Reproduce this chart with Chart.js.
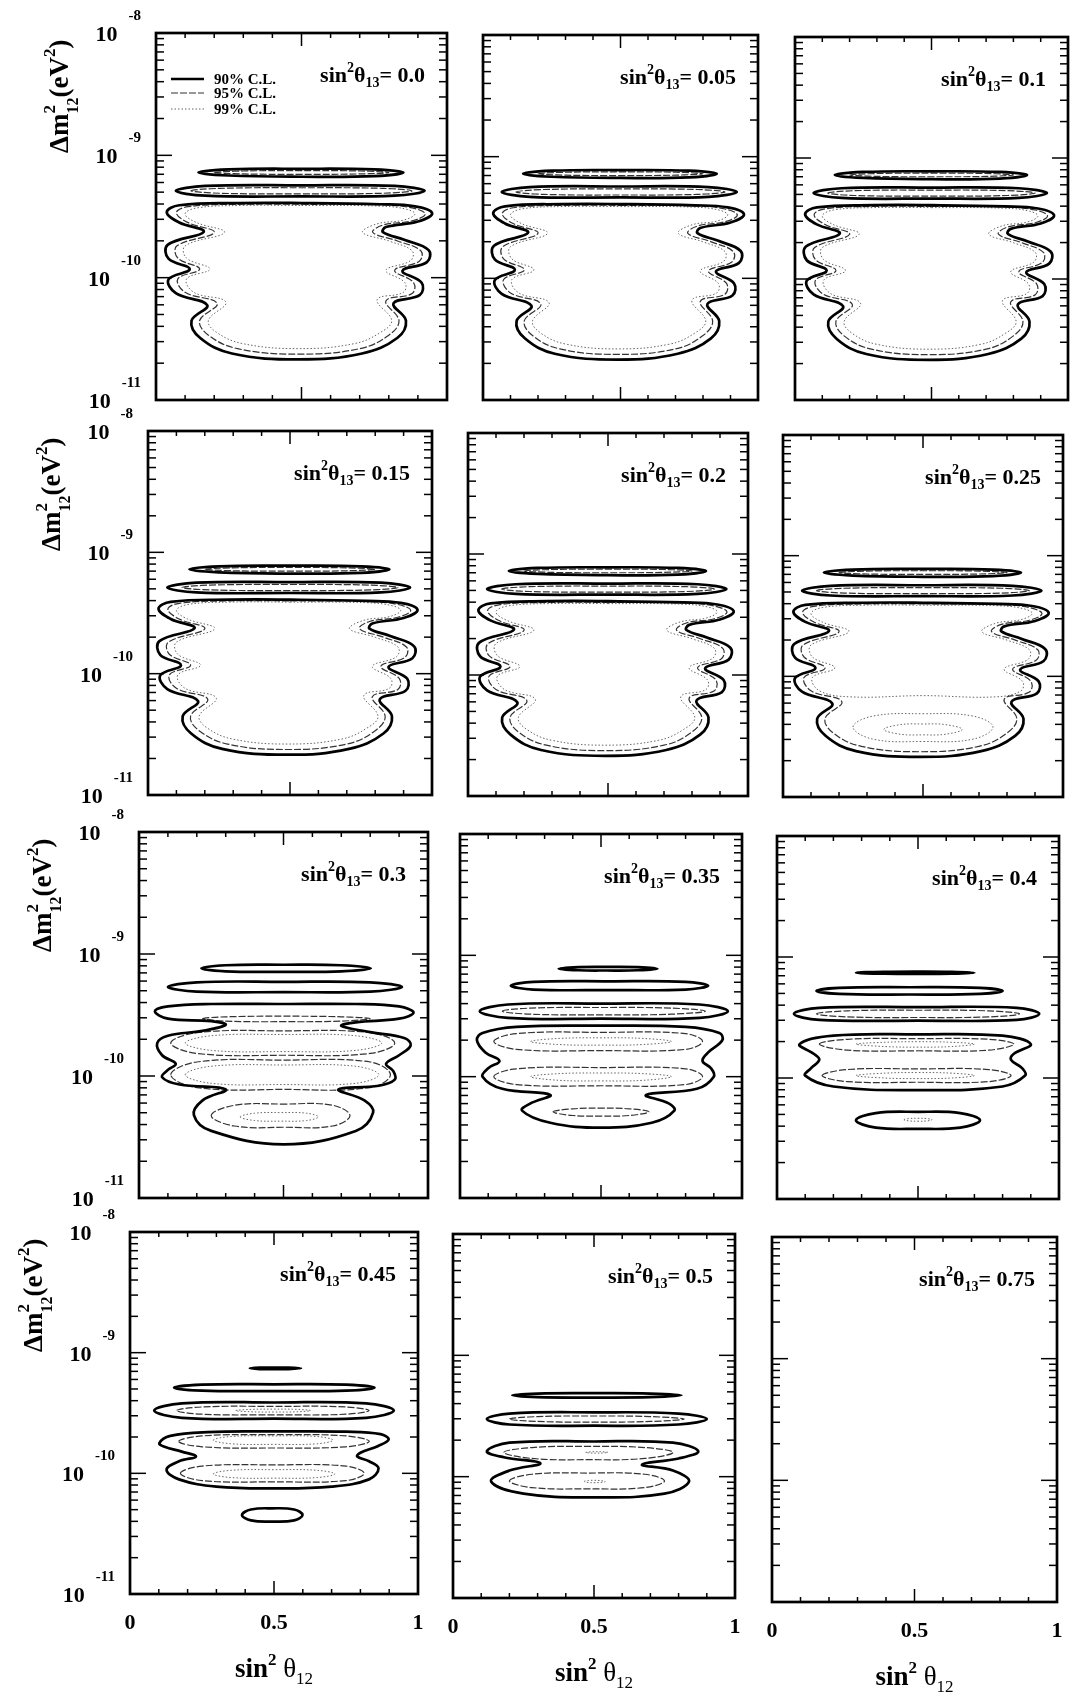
<!DOCTYPE html>
<html>
<head>
<meta charset="utf-8">
<script src="https://cdn.jsdelivr.net/npm/chart.js@4.4.1/dist/chart.umd.min.js"></script>
<style>
  html, body { margin: 0; padding: 0; background: #fff; }
  #page { position: relative; width: 1076px; height: 1693px; overflow: hidden; background: #fff; }
  #page canvas { position: absolute; }
</style>
</head>
<body>
<div id="page"></div>
<script>
// ---- labels / ticks ----
const sinLabels = ['0.0', '0.05', '0.1', '0.15', '0.2', '0.25', '0.3', '0.35', '0.4', '0.45', '0.5', '0.75'];
const decades = [-11, -10, -9, -8];
const minorMantissas = [2, 3, 4, 5, 6, 7, 8, 9];
const xMinorTicks = [0.1, 0.2, 0.3, 0.4, 0.6, 0.7, 0.8, 0.9];
const xMajorTicks = [0.5];
const xTickValues = [0, 0.5, 1];
const xTickLabels = ['0', '0.5', '1'];
const clLabels = ['90% C.L.', '95% C.L.', '99% C.L.'];

// ---- contours: closed curves of [sin^2 theta12, log10(dm2)] ----
// panels 0.0 - 0.2 look alike
const fork90 = [
  [[0.146,-9.14],[0.25,-9.115],[0.5,-9.11],[0.75,-9.115],[0.85,-9.14],[0.75,-9.17],[0.5,-9.175],[0.25,-9.165]],
  [[0.068,-9.29],[0.17,-9.25],[0.5,-9.245],[0.82,-9.25],[0.923,-9.29],[0.82,-9.33],[0.5,-9.335],[0.17,-9.33]],
  [[0.50,-9.39],[0.77,-9.40],[0.89,-9.417],[0.949,-9.473],[0.90,-9.541],[0.79,-9.586],[0.78,-9.628],[0.853,-9.69],
   [0.937,-9.775],[0.931,-9.873],[0.847,-9.944],[0.913,-10.042],[0.907,-10.141],[0.816,-10.211],[0.859,-10.352],
   [0.829,-10.493],[0.708,-10.62],[0.49,-10.668],[0.261,-10.62],[0.152,-10.493],[0.122,-10.352],[0.176,-10.225],
   [0.068,-10.127],[0.043,-10.014],[0.116,-9.93],[0.043,-9.845],[0.04,-9.732],[0.164,-9.625],[0.08,-9.549],
   [0.037,-9.465],[0.08,-9.408],[0.285,-9.39]]
];
const fork95 = [
  [[0.20,-9.14],[0.3,-9.128],[0.5,-9.125],[0.7,-9.128],[0.80,-9.14],[0.7,-9.152],[0.5,-9.155],[0.3,-9.152]],
  [[0.12,-9.29],[0.22,-9.27],[0.5,-9.265],[0.78,-9.27],[0.88,-9.29],[0.78,-9.31],[0.5,-9.315],[0.22,-9.31]],
  [[0.50,-9.40],[0.77,-9.405],[0.88,-9.43],[0.925,-9.48],[0.88,-9.535],[0.78,-9.57],[0.745,-9.63],[0.83,-9.70],
   [0.91,-9.78],[0.905,-9.865],[0.82,-9.94],[0.885,-10.04],[0.88,-10.13],[0.79,-10.19],[0.835,-10.35],[0.80,-10.47],
   [0.70,-10.58],[0.49,-10.625],[0.28,-10.58],[0.18,-10.47],[0.15,-10.35],[0.21,-10.21],[0.10,-10.12],[0.075,-10.01],
   [0.15,-9.93],[0.075,-9.84],[0.072,-9.74],[0.20,-9.63],[0.11,-9.55],[0.07,-9.47],[0.11,-9.42],[0.29,-9.40]]
];
const fork99 = [
  [[0.50,-9.41],[0.77,-9.415],[0.86,-9.44],[0.89,-9.48],[0.85,-9.53],[0.76,-9.56],[0.71,-9.63],[0.80,-9.70],
   [0.88,-9.78],[0.875,-9.86],[0.79,-9.94],[0.855,-10.04],[0.85,-10.12],[0.76,-10.18],[0.81,-10.35],[0.77,-10.45],
   [0.68,-10.54],[0.49,-10.58],[0.30,-10.54],[0.21,-10.45],[0.18,-10.35],[0.24,-10.20],[0.13,-10.12],[0.105,-10.01],
   [0.185,-9.93],[0.105,-9.84],[0.10,-9.74],[0.235,-9.63],[0.14,-9.55],[0.10,-9.48],[0.14,-9.43],[0.29,-9.41]]
];

// sin^2 theta13 = 0.25
const s025_99 = [
  [[0.50,-9.41],[0.77,-9.415],[0.86,-9.44],[0.89,-9.48],[0.85,-9.53],[0.76,-9.56],[0.71,-9.63],[0.80,-9.70],
   [0.88,-9.78],[0.875,-9.86],[0.79,-9.94],[0.855,-10.04],[0.85,-10.12],[0.76,-10.17],[0.5,-10.16],[0.24,-10.17],
   [0.13,-10.12],[0.105,-10.01],[0.185,-9.93],[0.105,-9.84],[0.10,-9.74],[0.235,-9.63],[0.14,-9.55],[0.10,-9.48],
   [0.14,-9.43],[0.29,-9.41]],
  [[0.25,-10.42],[0.32,-10.33],[0.5,-10.31],[0.68,-10.33],[0.75,-10.42],[0.68,-10.52],[0.5,-10.54],[0.32,-10.52]],
  [[0.36,-10.44],[0.42,-10.40],[0.5,-10.395],[0.58,-10.40],[0.64,-10.44],[0.58,-10.48],[0.5,-10.485],[0.42,-10.48]]
];

// sin^2 theta13 = 0.3
const s030_90 = [
  [[0.216,-9.117],[0.3,-9.092],[0.5,-9.088],[0.7,-9.092],[0.802,-9.117],[0.7,-9.142],[0.5,-9.146],[0.3,-9.142]],
  [[0.10,-9.27],[0.2,-9.232],[0.5,-9.228],[0.8,-9.232],[0.91,-9.27],[0.8,-9.308],[0.5,-9.312],[0.2,-9.308]],
  [[0.5,-9.41],[0.75,-9.41],[0.90,-9.43],[0.95,-9.48],[0.90,-9.53],[0.75,-9.56],[0.70,-9.59],[0.80,-9.64],[0.92,-9.69],
   [0.94,-9.75],[0.90,-9.83],[0.855,-9.90],[0.88,-9.96],[0.885,-10.03],[0.83,-10.08],[0.69,-10.11],[0.78,-10.20],
   [0.81,-10.30],[0.75,-10.45],[0.50,-10.56],[0.25,-10.45],[0.19,-10.32],[0.22,-10.20],[0.30,-10.11],[0.14,-10.07],
   [0.08,-10.01],[0.10,-9.95],[0.127,-9.90],[0.08,-9.83],[0.063,-9.73],[0.10,-9.67],[0.22,-9.63],[0.30,-9.58],
   [0.25,-9.55],[0.10,-9.53],[0.055,-9.47],[0.10,-9.43],[0.25,-9.41]]
];
const s030_95 = [
  [[0.22,-9.53],[0.3,-9.515],[0.5,-9.51],[0.7,-9.515],[0.80,-9.53],[0.7,-9.55],[0.5,-9.555],[0.3,-9.55]],
  [[0.11,-9.73],[0.2,-9.645],[0.5,-9.63],[0.8,-9.645],[0.885,-9.73],[0.8,-9.815],[0.5,-9.83],[0.2,-9.815]],
  [[0.11,-9.99],[0.2,-9.885],[0.5,-9.87],[0.8,-9.885],[0.87,-9.99],[0.8,-10.095],[0.5,-10.11],[0.2,-10.095]],
  [[0.25,-10.325],[0.33,-10.24],[0.5,-10.23],[0.67,-10.24],[0.73,-10.325],[0.67,-10.41],[0.5,-10.42],[0.33,-10.41]]
];
const s030_99 = [
  [[0.16,-9.73],[0.25,-9.67],[0.5,-9.66],[0.75,-9.67],[0.84,-9.73],[0.75,-9.79],[0.5,-9.80],[0.25,-9.79]],
  [[0.16,-9.99],[0.25,-9.92],[0.5,-9.91],[0.75,-9.92],[0.83,-9.99],[0.75,-10.06],[0.5,-10.07],[0.25,-10.06]],
  [[0.35,-10.335],[0.4,-10.305],[0.49,-10.30],[0.58,-10.305],[0.62,-10.335],[0.58,-10.365],[0.49,-10.37],[0.4,-10.365]]
];

// sin^2 theta13 = 0.35
const s035_90 = [
  [[0.35,-9.11],[0.42,-9.097],[0.52,-9.095],[0.63,-9.097],[0.70,-9.11],[0.63,-9.123],[0.52,-9.125],[0.42,-9.123]],
  [[0.18,-9.25],[0.26,-9.218],[0.53,-9.214],[0.8,-9.218],[0.88,-9.25],[0.8,-9.282],[0.53,-9.286],[0.26,-9.282]],
  [[0.07,-9.46],[0.17,-9.405],[0.5,-9.398],[0.85,-9.405],[0.95,-9.46],[0.85,-9.515],[0.5,-9.522],[0.17,-9.515]],
  [[0.5,-9.58],[0.8,-9.59],[0.92,-9.64],[0.93,-9.70],[0.88,-9.80],[0.86,-9.87],[0.89,-9.93],[0.90,-10.0],[0.84,-10.10],
   [0.66,-10.15],[0.74,-10.22],[0.76,-10.28],[0.68,-10.38],[0.5,-10.42],[0.32,-10.38],[0.22,-10.28],[0.25,-10.22],
   [0.32,-10.15],[0.15,-10.10],[0.08,-10.0],[0.10,-9.93],[0.14,-9.87],[0.09,-9.80],[0.06,-9.70],[0.08,-9.64],[0.2,-9.59]]
];
const s035_95 = [
  [[0.15,-9.46],[0.25,-9.435],[0.5,-9.43],[0.75,-9.435],[0.87,-9.46],[0.75,-9.485],[0.5,-9.49],[0.25,-9.485]],
  [[0.12,-9.71],[0.2,-9.645],[0.5,-9.635],[0.8,-9.645],[0.86,-9.71],[0.8,-9.775],[0.5,-9.785],[0.2,-9.775]],
  [[0.12,-10.0],[0.2,-9.935],[0.5,-9.925],[0.8,-9.935],[0.86,-10.0],[0.8,-10.065],[0.5,-10.075],[0.2,-10.065]],
  [[0.33,-10.29],[0.4,-10.265],[0.5,-10.26],[0.6,-10.265],[0.67,-10.29],[0.6,-10.32],[0.5,-10.325],[0.4,-10.32]]
];
const s035_99 = [
  [[0.25,-9.71],[0.35,-9.685],[0.5,-9.68],[0.65,-9.685],[0.75,-9.71],[0.65,-9.735],[0.5,-9.74],[0.35,-9.735]],
  [[0.25,-10.0],[0.35,-9.975],[0.5,-9.97],[0.65,-9.975],[0.75,-10.0],[0.65,-10.03],[0.5,-10.035],[0.35,-10.03]]
];

// sin^2 theta13 = 0.4
const s040_90 = [
  [[0.28,-9.13],[0.38,-9.122],[0.5,-9.12],[0.62,-9.122],[0.70,-9.13],[0.62,-9.138],[0.5,-9.14],[0.38,-9.138]],
  [[0.14,-9.28],[0.22,-9.255],[0.47,-9.25],[0.72,-9.255],[0.80,-9.28],[0.72,-9.305],[0.47,-9.31],[0.22,-9.305]],
  [[0.06,-9.47],[0.15,-9.42],[0.5,-9.415],[0.85,-9.42],[0.93,-9.47],[0.85,-9.52],[0.5,-9.525],[0.15,-9.52]],
  [[0.5,-9.64],[0.8,-9.65],[0.90,-9.72],[0.84,-9.80],[0.83,-9.85],[0.87,-9.92],[0.88,-9.98],[0.80,-10.07],[0.5,-10.10],
   [0.2,-10.07],[0.10,-9.98],[0.12,-9.92],[0.15,-9.85],[0.13,-9.80],[0.08,-9.72],[0.2,-9.65]],
  [[0.28,-10.35],[0.35,-10.29],[0.5,-10.28],[0.65,-10.29],[0.72,-10.35],[0.65,-10.41],[0.5,-10.42],[0.35,-10.41]]
];
const s040_95 = [
  [[0.14,-9.47],[0.25,-9.445],[0.5,-9.44],[0.75,-9.445],[0.86,-9.47],[0.75,-9.495],[0.5,-9.50],[0.25,-9.495]],
  [[0.15,-9.72],[0.25,-9.68],[0.5,-9.675],[0.75,-9.68],[0.84,-9.72],[0.75,-9.77],[0.5,-9.775],[0.25,-9.77]],
  [[0.16,-9.98],[0.25,-9.93],[0.5,-9.925],[0.75,-9.93],[0.83,-9.98],[0.75,-10.03],[0.5,-10.035],[0.25,-10.03]]
];
const s040_99 = [
  [[0.28,-9.72],[0.38,-9.705],[0.5,-9.70],[0.62,-9.705],[0.70,-9.72],[0.62,-9.74],[0.5,-9.745],[0.38,-9.74]],
  [[0.28,-9.98],[0.38,-9.96],[0.5,-9.955],[0.62,-9.96],[0.70,-9.98],[0.62,-10.0],[0.5,-10.005],[0.38,-10.0]],
  [[0.45,-10.345],[0.47,-10.335],[0.5,-10.333],[0.53,-10.335],[0.55,-10.345],[0.53,-10.355],[0.5,-10.357],[0.47,-10.355]]
];

// sin^2 theta13 = 0.45
const s045_90 = [
  [[0.416,-9.13],[0.45,-9.124],[0.5,-9.123],[0.55,-9.124],[0.594,-9.13],[0.55,-9.136],[0.5,-9.137],[0.45,-9.136]],
  [[0.153,-9.29],[0.25,-9.265],[0.5,-9.262],[0.75,-9.265],[0.849,-9.29],[0.75,-9.315],[0.5,-9.318],[0.25,-9.315]],
  [[0.084,-9.48],[0.18,-9.42],[0.5,-9.413],[0.82,-9.42],[0.916,-9.48],[0.82,-9.54],[0.5,-9.547],[0.18,-9.54]],
  [[0.5,-9.653],[0.75,-9.655],[0.87,-9.675],[0.898,-9.72],[0.86,-9.775],[0.80,-9.83],[0.789,-9.861],[0.83,-9.90],
   [0.863,-9.96],[0.83,-10.05],[0.70,-10.11],[0.5,-10.125],[0.30,-10.11],[0.17,-10.05],[0.127,-9.97],[0.17,-9.90],
   [0.229,-9.861],[0.18,-9.82],[0.12,-9.78],[0.102,-9.75],[0.14,-9.69],[0.27,-9.658]],
  [[0.389,-10.345],[0.42,-10.30],[0.494,-10.29],[0.57,-10.30],[0.599,-10.345],[0.57,-10.39],[0.494,-10.40],[0.42,-10.39]]
];
const s045_95 = [
  [[0.163,-9.48],[0.25,-9.45],[0.5,-9.445],[0.75,-9.45],[0.83,-9.48],[0.75,-9.51],[0.5,-9.515],[0.25,-9.51]],
  [[0.169,-9.735],[0.25,-9.69],[0.5,-9.68],[0.75,-9.69],[0.831,-9.735],[0.75,-9.78],[0.5,-9.79],[0.25,-9.78]],
  [[0.175,-10.0],[0.25,-9.94],[0.5,-9.93],[0.75,-9.94],[0.813,-10.0],[0.75,-10.06],[0.5,-10.07],[0.25,-10.06]]
];
const s045_99 = [
  [[0.367,-9.48],[0.42,-9.47],[0.5,-9.468],[0.58,-9.47],[0.627,-9.48],[0.58,-9.49],[0.5,-9.492],[0.42,-9.49]],
  [[0.289,-9.725],[0.35,-9.695],[0.5,-9.69],[0.65,-9.695],[0.705,-9.725],[0.65,-9.755],[0.5,-9.76],[0.35,-9.755]],
  [[0.289,-10.005],[0.35,-9.975],[0.5,-9.97],[0.65,-9.975],[0.711,-10.005],[0.65,-10.035],[0.5,-10.04],[0.35,-10.035]]
];

// sin^2 theta13 = 0.5
const s050_90 = [
  [[0.21,-9.33],[0.3,-9.315],[0.5,-9.312],[0.7,-9.315],[0.81,-9.33],[0.7,-9.345],[0.5,-9.348],[0.3,-9.345]],
  [[0.12,-9.525],[0.2,-9.48],[0.5,-9.47],[0.8,-9.48],[0.90,-9.525],[0.8,-9.57],[0.5,-9.58],[0.2,-9.57]],
  [[0.5,-9.71],[0.78,-9.72],[0.87,-9.79],[0.80,-9.85],[0.67,-9.90],[0.78,-9.95],[0.837,-10.04],[0.75,-10.14],
   [0.5,-10.17],[0.25,-10.14],[0.135,-10.04],[0.2,-9.95],[0.31,-9.89],[0.18,-9.84],[0.12,-9.79],[0.2,-9.72]]
];
const s050_95 = [
  [[0.20,-9.525],[0.3,-9.505],[0.5,-9.50],[0.7,-9.505],[0.82,-9.525],[0.7,-9.545],[0.5,-9.55],[0.3,-9.545]],
  [[0.18,-9.80],[0.28,-9.76],[0.48,-9.75],[0.68,-9.76],[0.78,-9.80],[0.68,-9.85],[0.48,-9.86],[0.28,-9.85]],
  [[0.20,-10.035],[0.28,-9.98],[0.48,-9.97],[0.68,-9.98],[0.75,-10.035],[0.68,-10.09],[0.48,-10.10],[0.28,-10.09]]
];
const s050_99 = [
  [[0.47,-9.80],[0.49,-9.795],[0.51,-9.794],[0.53,-9.795],[0.55,-9.80],[0.53,-9.805],[0.51,-9.806],[0.49,-9.805]],
  [[0.465,-10.04],[0.48,-10.032],[0.50,-10.03],[0.52,-10.032],[0.54,-10.04],[0.52,-10.048],[0.50,-10.05],[0.48,-10.048]]
];

const panelContours = [
  [fork90, fork95, fork99], [fork90, fork95, fork99], [fork90, fork95, fork99],
  [fork90, fork95, fork99], [fork90, fork95, fork99], [fork90, fork95, s025_99],
  [s030_90, s030_95, s030_99], [s035_90, s035_95, s035_99], [s040_90, s040_95, s040_99],
  [s045_90, s045_95, s045_99], [s050_90, s050_95, s050_99], [[], [], []]
];

// ---- layout ----
const frames = [ // left, right, top, bottom of each panel frame on the page
  [156, 447, 33, 400], [483, 758, 35, 400], [795, 1068, 37, 400],
  [148, 432, 431, 795], [468, 748, 433, 796], [783, 1063, 435, 797],
  [139, 428, 832, 1198], [460, 742, 834, 1198], [777, 1059, 836, 1199],
  [130, 418, 1232, 1594], [453, 735, 1234, 1598], [772, 1057, 1237, 1602]
];
const clStyles = [
  { color: '#000', width: 2.7, dash: [] },
  { color: '#333', width: 1.2, dash: [7, 2] },
  { color: '#666', width: 1.0, dash: [1.5, 2] }
];
const FONT = '"Liberation Serif", "Times New Roman", serif';

function drawRuns(ctx, parts, x, y, align) {
  let w = 0;
  parts.forEach(p => {
    ctx.font = p.f;
    p.w = ctx.measureText(p.t).width;
    if (!p.noAdvance) w += p.w;
  });
  let cx = align === 'right' ? x - w : align === 'center' ? x - w / 2 : x;
  parts.forEach(p => {
    ctx.font = p.f;
    ctx.fillText(p.t, cx, y + (p.dy || 0));
    if (!p.noAdvance) cx += p.w;
  });
}

function line(ctx, x1, y1, x2, y2) {
  ctx.beginPath(); ctx.moveTo(x1, y1); ctx.lineTo(x2, y2); ctx.stroke();
}

const framePlugin = {
  id: 'frame',
  afterDraw(chart, args, opts) {
    const { ctx, chartArea: a } = chart;
    const xs = chart.scales.x, ys = chart.scales.y;
    ctx.save();
    ctx.strokeStyle = '#000';
    ctx.fillStyle = '#000';
    ctx.lineCap = 'butt';

    // y ticks, inside on both sides
    ctx.lineWidth = 1.5;
    decades.forEach(d => {
      const py = ys.getPixelForValue(Math.pow(10, d));
      line(ctx, a.left, py, a.left + 16, py);
      line(ctx, a.right, py, a.right - 16, py);
      if (d < -8) {
        minorMantissas.forEach(m => {
          const p = ys.getPixelForValue(m * Math.pow(10, d));
          line(ctx, a.left, p, a.left + 8, p);
          line(ctx, a.right, p, a.right - 8, p);
        });
      }
    });
    // x ticks, inside top and bottom
    xMinorTicks.forEach(v => {
      const px = xs.getPixelForValue(v);
      line(ctx, px, a.top, px, a.top + 5);
      line(ctx, px, a.bottom, px, a.bottom - 5);
    });
    xMajorTicks.forEach(v => {
      const px = xs.getPixelForValue(v);
      line(ctx, px, a.top, px, a.top + 13);
      line(ctx, px, a.bottom, px, a.bottom - 13);
    });

    // frame
    ctx.lineWidth = 2.7;
    ctx.strokeRect(a.left, a.top, a.right - a.left, a.bottom - a.top);

    // sin^2 theta13 label, upper right
    ctx.textBaseline = 'alphabetic';
    drawRuns(ctx, [
      { t: 'sin', f: 'bold 22px ' + FONT },
      { t: '2', f: 'bold 14px ' + FONT, dy: -10 },
      { t: 'θ', f: 'bold 22px ' + FONT },
      { t: '13', f: 'bold 14px ' + FONT, dy: 5 },
      { t: '= ' + opts.label, f: 'bold 22px ' + FONT }
    ], a.right - 22, a.top + 49, 'right');

    // legend
    if (opts.legend) {
      clLabels.forEach((lab, i) => {
        const ly = a.top + [46, 60, 76][i];
        ctx.save();
        ctx.lineWidth = clStyles[i].width;
        ctx.strokeStyle = clStyles[i].color;
        ctx.setLineDash(clStyles[i].dash);
        line(ctx, a.left + 15, ly, a.left + 48, ly);
        ctx.restore();
        ctx.font = 'bold 15px ' + FONT;
        ctx.fillText(lab, a.left + 58, ly + 5);
      });
    }

    // y tick labels and y title (first column)
    if (opts.yLabels) {
      decades.forEach(d => {
        const py = ys.getPixelForValue(Math.pow(10, d));
        const ex = String(d);
        ctx.font = 'bold 15px ' + FONT;
        const ew = ctx.measureText(ex).width;
        const right = a.left - 15;
        ctx.fillText(ex, right - ew, py - 13);
        ctx.font = 'bold 22px ' + FONT;
        const tw = ctx.measureText('10').width;
        ctx.fillText('10', right - ew - 11 - tw, py + 8);
      });
      ctx.save();
      ctx.translate(a.left - 88, a.top + 120);
      ctx.rotate(-Math.PI / 2);
      drawRuns(ctx, [
        { t: 'Δm', f: 'bold 27px ' + FONT },
        { t: '2', f: 'bold 17px ' + FONT, dy: -13, noAdvance: true },
        { t: '12', f: 'bold 16px ' + FONT, dy: 10 },
        { t: '(eV', f: 'bold 27px ' + FONT },
        { t: '2', f: 'bold 17px ' + FONT, dy: -13 },
        { t: ')', f: 'bold 27px ' + FONT }
      ], 0, 0, 'left');
      ctx.restore();
    }

    // x tick labels and x title (bottom row)
    if (opts.xLabels) {
      ctx.font = 'bold 22px ' + FONT;
      ctx.textAlign = 'center';
      xTickValues.forEach((v, i) => {
        ctx.fillText(xTickLabels[i], xs.getPixelForValue(v), a.bottom + 35);
      });
      ctx.textAlign = 'left';
      drawRuns(ctx, [
        { t: 'sin', f: 'bold 27px ' + FONT },
        { t: '2', f: 'bold 17px ' + FONT, dy: -12 },
        { t: ' θ', f: '27px ' + FONT },
        { t: '12', f: '17px ' + FONT, dy: 7 }
      ], (a.left + a.right) / 2, a.bottom + 83, 'center');
    }
    ctx.restore();
  }
};

function ringData(ring) {
  const pts = ring.map(p => ({ x: p[0], y: Math.pow(10, p[1]) }));
  const n = pts.length;
  // wrap around so the closing joint is smooth; the two outer segments are hidden
  return [pts[n - 1]].concat(pts, [pts[0], pts[1]]);
}
const hideEnds = ctx => {
  const len = ctx.chart.data.datasets[ctx.datasetIndex].data.length;
  return (ctx.p0DataIndex === 0 || ctx.p1DataIndex === len - 1) ? 'rgba(0,0,0,0)' : undefined;
};

const page = document.getElementById('page');
frames.forEach((fr, i) => {
  const [fl, fr_, ft, fb] = fr;
  const col = i % 3, row = Math.floor(i / 3);
  const padL = col === 0 ? fl : 12;
  const padR = 14;
  const padT = 30;
  const padB = row === 3 ? 1693 - fb : 14;
  const canvas = document.createElement('canvas');
  const w = (fr_ - fl) + padL + padR;
  const h = (fb - ft) + padT + padB;
  canvas.width = w; canvas.height = h;
  canvas.style.width = w + 'px'; canvas.style.height = h + 'px';
  canvas.style.left = (fl - padL) + 'px';
  canvas.style.top = (ft - padT) + 'px';
  page.appendChild(canvas);

  const datasets = [];
  panelContours[i].forEach((rings, cl) => {
    rings.forEach(r => {
      datasets.push({
        label: clLabels[cl],
        data: ringData(r),
        borderColor: clStyles[cl].color,
        borderWidth: clStyles[cl].width,
        borderDash: clStyles[cl].dash,
        pointRadius: 0,
        tension: 0.4,
        fill: false,
        segment: { borderColor: hideEnds }
      });
    });
  });

  new Chart(canvas.getContext('2d'), {
    type: 'line',
    data: { datasets: datasets },
    options: {
      responsive: false,
      animation: false,
      devicePixelRatio: 1,
      layout: { padding: { left: padL, right: padR, top: padT, bottom: padB } },
      scales: {
        x: { type: 'linear', min: 0, max: 1, display: false },
        y: { type: 'logarithmic', min: 1e-11, max: 1e-8, display: false }
      },
      plugins: {
        legend: { display: false },
        tooltip: { enabled: false },
        frame: { label: sinLabels[i], legend: i === 0, yLabels: col === 0, xLabels: row === 3 }
      }
    },
    plugins: [framePlugin]
  });
});
</script>
</body>
</html>
